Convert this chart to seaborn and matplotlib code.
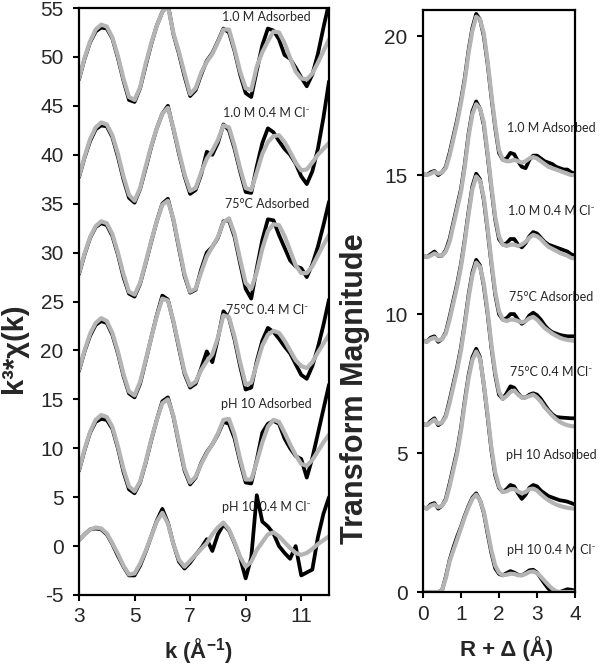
import matplotlib
matplotlib.use("Agg")
import matplotlib.pyplot as plt
import seaborn as sns

# ---------------- data ----------------
K = [3.0, 3.2, 3.4, 3.6, 3.8, 4.0, 4.2, 4.4, 4.6, 4.8, 5.0, 5.2, 5.4, 5.6, 5.8,
     6.0, 6.2, 6.4, 6.6, 6.8, 7.0, 7.2, 7.4, 7.6, 7.8, 8.0, 8.2, 8.4, 8.6, 8.8,
     9.0, 9.2, 9.4, 9.6, 9.8, 10.0, 10.2, 10.4, 10.6, 10.8, 11.0, 11.2, 11.4,
     11.6, 11.8, 12.0]

# k^3 chi(k): black = data, grey = fit (already offset as plotted)
chi_data_1 = [47.7, 49.8, 51.5, 52.6, 53.0, 52.9, 51.9, 49.9, 47.6, 45.6, 45.4, 46.8, 49.1, 51.3, 53.2,
              54.6, 55.4, 52.3, 50.3, 48.0, 46.0, 46.6, 48.2, 49.6, 50.4, 51.6, 52.9, 52.5, 50.6, 48.2,
              46.3, 45.9, 48.6, 51.2, 52.9, 52.7, 51.8, 50.2, 49.8, 48.9, 47.9, 47.0, 48.2, 50.3, 53.0, 55.5]
chi_fit_1 = [47.8, 49.9, 51.6, 52.8, 53.3, 53.1, 52.0, 50.1, 47.8, 45.9, 45.6, 46.9, 49.3, 51.4, 53.2,
             54.6, 55.2, 52.4, 50.5, 48.3, 46.2, 46.8, 48.4, 49.5, 50.3, 51.5, 52.8, 52.8, 50.8, 48.5,
             46.8, 46.6, 49.0, 50.5, 51.6, 52.6, 52.5, 51.4, 49.9, 48.5, 47.8, 47.7, 48.3, 49.4, 50.6, 51.8]
chi_data_2 = [37.7, 39.7, 41.4, 42.6, 43.0, 42.9, 41.8, 39.8, 37.5, 35.6, 35.1, 36.5, 38.6, 40.8, 42.7,
              44.2, 45.0, 42.6, 40.1, 37.8, 36.0, 36.4, 38.0, 40.3, 40.0, 41.2, 43.1, 42.5, 40.6, 38.3,
              36.2, 36.1, 38.8, 41.2, 42.7, 42.3, 41.4, 40.6, 40.0, 39.1, 37.8, 37.0, 38.3, 40.6, 43.8, 47.5]
chi_fit_2 = [37.8, 39.8, 41.6, 42.8, 43.3, 43.1, 42.0, 40.1, 37.8, 35.9, 35.3, 36.6, 38.8, 40.9, 42.7,
             44.2, 44.8, 42.7, 40.3, 38.0, 36.3, 36.6, 38.2, 39.6, 40.4, 41.5, 43.0, 42.8, 40.9, 38.6,
             36.6, 36.4, 38.2, 40.1, 41.3, 41.9, 42.0, 41.3, 40.3, 39.2, 38.4, 38.5, 39.2, 40.0, 40.6, 41.2]
chi_data_3 = [27.8, 29.8, 31.5, 32.6, 33.0, 32.8, 31.7, 29.8, 27.5, 25.8, 25.5, 26.8, 28.9, 31.1, 33.2,
              35.0, 35.5, 33.3, 30.4, 27.6, 25.9, 26.2, 28.3, 30.0, 30.6, 31.5, 33.2, 33.3, 31.6, 28.9,
              26.3, 25.3, 28.4, 31.3, 33.4, 33.3, 31.8, 30.5, 29.2, 28.6, 28.4, 27.5, 28.8, 30.6, 32.8, 35.2]
chi_fit_3 = [27.9, 29.9, 31.6, 32.7, 33.2, 33.0, 31.9, 30.0, 27.8, 26.0, 25.7, 26.9, 29.0, 31.2, 33.2,
             34.9, 35.3, 33.4, 30.6, 27.8, 26.0, 26.3, 28.0, 29.6, 30.6, 31.6, 33.1, 33.5, 31.9, 29.3,
             26.9, 26.3, 28.0, 30.4, 32.2, 32.9, 32.8, 31.7, 30.2, 28.7, 27.9, 27.9, 28.6, 29.7, 30.8, 31.8]
chi_data_4 = [17.9, 19.9, 21.5, 22.6, 23.0, 22.8, 21.6, 19.7, 17.4, 15.6, 15.2, 16.6, 18.9, 21.3, 23.6,
              25.6, 25.2, 22.9, 20.2, 17.6, 16.2, 16.6, 18.2, 19.9, 18.8, 21.2, 24.0, 23.3, 21.1, 18.4,
              16.0, 16.2, 18.9, 21.0, 22.3, 21.9, 21.2, 20.4, 19.7, 18.6, 17.5, 17.1, 18.4, 20.3, 22.6, 25.2]
chi_fit_4 = [18.0, 20.0, 21.7, 22.8, 23.3, 23.0, 21.8, 19.9, 17.6, 15.8, 15.4, 16.8, 19.0, 21.3, 23.5,
             25.3, 25.1, 23.0, 20.4, 17.8, 16.4, 16.8, 18.0, 18.9, 19.6, 21.3, 23.6, 23.4, 21.4, 18.8,
             16.5, 16.7, 18.6, 20.5, 21.6, 22.0, 21.8, 21.0, 20.0, 19.0, 18.4, 18.2, 18.8, 19.8, 20.7, 21.6]
chi_data_5 = [7.7, 9.8, 11.6, 12.7, 13.0, 12.9, 12.0, 10.0, 7.6, 5.8, 5.4, 6.5, 8.5, 10.8, 12.9,
              14.8, 15.2, 13.2, 10.4, 7.7, 6.3, 7.0, 8.5, 9.6, 10.4, 11.4, 12.7, 12.5, 11.0, 8.6,
              6.5, 6.4, 8.8, 11.6, 12.5, 12.8, 12.5, 11.0, 10.0, 9.2, 8.9, 7.0, 9.0, 11.5, 14.0, 16.5]
chi_fit_5 = [7.8, 9.9, 11.7, 12.9, 13.4, 13.2, 12.2, 10.2, 7.9, 6.1, 5.6, 6.6, 8.6, 10.9, 12.9,
             14.6, 15.0, 13.3, 10.6, 7.9, 6.5, 7.1, 8.4, 9.5, 10.4, 11.5, 12.9, 13.0, 11.4, 8.9,
             6.8, 6.8, 8.6, 10.6, 12.2, 12.9, 12.7, 11.6, 10.4, 9.3, 8.4, 8.2, 8.8, 9.7, 10.6, 11.4]
chi_data_6 = [0.6, 1.2, 1.7, 1.8, 1.7, 1.2, 0.2, -1.0, -2.1, -3.0, -3.0, -2.0, -0.6, 1.0, 2.6,
              3.8, 2.4, 0.2, -1.6, -2.3, -1.7, -0.9, -0.2, 0.7, -0.5, 1.2, 2.2, 1.6, 0.3, -1.2,
              -3.3, -1.2, 5.2, 2.5, 2.0, 1.3, 0.0, -0.7, -1.3, 0.0, -3.0, -2.7, -2.4, 0.9, 3.3, 5.0]
chi_fit_6 = [0.6, 1.2, 1.7, 1.9, 1.8, 1.3, 0.3, -0.8, -2.0, -2.9, -2.8, -1.8, -0.5, 1.0, 2.5,
             3.4, 2.3, 0.2, -1.4, -2.1, -1.5, -0.9, -0.3, 0.3, 1.2, 1.9, 2.4, 1.7, 0.4, -1.1,
             -2.1, -1.6, -0.4, 0.4, 1.2, 1.4, 1.0, 0.4, -0.2, -0.7, -0.9, -0.7, -0.3, 0.2, 0.6, 1.0]

R = [0.0, 0.1, 0.2, 0.3, 0.4, 0.5, 0.6, 0.7, 0.8, 0.9, 1.0, 1.1, 1.2, 1.3, 1.4, 1.5, 1.6, 1.7, 1.8,
     1.9, 2.0, 2.1, 2.2, 2.3, 2.4, 2.5, 2.6, 2.7, 2.8, 2.9, 3.0, 3.1, 3.2, 3.3, 3.4, 3.5, 3.6, 3.7,
     3.8, 3.9, 4.0]

ft_data_1 = [15.05, 15.0, 15.1, 15.15, 15.0, 15.1, 15.3, 15.8, 16.4, 17.0,
             17.7, 18.5, 19.5, 20.3, 20.8, 20.6, 20.0, 19.0, 17.8, 16.7,
             15.8, 15.55, 15.6, 15.8, 15.75, 15.5, 15.3, 15.25, 15.55, 15.7,
             15.7, 15.6, 15.5, 15.45, 15.4, 15.3, 15.25, 15.2, 15.2, 15.1, 15.05]
ft_fit_1 = [15.05, 15.0, 15.05, 15.12, 15.05, 15.1, 15.25, 15.7, 16.3, 16.9,
            17.6, 18.4, 19.4, 20.2, 20.7, 20.6, 20.1, 19.1, 17.9, 16.8,
            15.9, 15.55, 15.5, 15.5, 15.55, 15.5, 15.45, 15.5, 15.6, 15.65,
            15.6, 15.5, 15.4, 15.3, 15.25, 15.2, 15.15, 15.1, 15.05, 15.0, 15.0]
ft_data_2 = [12.1, 12.05, 12.15, 12.25, 12.1, 12.1, 12.3, 12.7, 13.3, 13.9,
             14.5, 15.4, 16.5, 17.3, 17.65, 17.4, 16.8, 15.7, 14.5, 13.4,
             12.7, 12.5, 12.55, 12.7, 12.7, 12.5, 12.4, 12.55, 12.8, 12.95,
             12.9, 12.75, 12.6, 12.5, 12.45, 12.4, 12.35, 12.3, 12.25, 12.15, 12.1]
ft_fit_2 = [12.1, 12.05, 12.1, 12.18, 12.12, 12.1, 12.25, 12.6, 13.2, 13.8,
            14.4, 15.3, 16.4, 17.2, 17.55, 17.4, 16.9, 15.8, 14.6, 13.5,
            12.8, 12.5, 12.45, 12.5, 12.5, 12.45, 12.5, 12.6, 12.75, 12.85,
            12.8, 12.7, 12.55, 12.42, 12.35, 12.28, 12.2, 12.15, 12.1, 12.02, 12.0]
ft_data_3 = [9.05, 9.0, 9.15, 9.2, 9.0, 9.1, 9.35, 9.9, 10.5, 11.1,
             11.8, 12.7, 13.7, 14.6, 15.05, 14.85, 14.1, 13.0, 11.8, 10.7,
             10.0, 9.8, 9.85, 10.0, 10.0, 9.8, 9.65, 9.75, 9.95, 10.05,
             9.95, 9.8, 9.6, 9.45, 9.35, 9.3, 9.25, 9.22, 9.2, 9.2, 9.2]
ft_fit_3 = [9.05, 9.0, 9.1, 9.15, 9.05, 9.1, 9.3, 9.8, 10.4, 11.0,
            11.7, 12.6, 13.6, 14.5, 14.95, 14.8, 14.2, 13.1, 11.9, 10.8,
            10.1, 9.8, 9.75, 9.8, 9.8, 9.75, 9.7, 9.75, 9.85, 9.9,
            9.8, 9.65, 9.5, 9.4, 9.3, 9.22, 9.15, 9.1, 9.07, 9.05, 9.03]
ft_data_4 = [6.05, 6.0, 6.15, 6.25, 6.0, 6.1, 6.35, 6.9, 7.5, 8.1,
             8.8, 9.7, 10.7, 11.5, 11.95, 11.75, 11.0, 10.0, 8.8, 7.8,
             7.1, 6.95, 7.15, 7.4, 7.35, 7.15, 7.0, 7.0, 7.1, 7.15,
             7.1, 6.95, 6.75, 6.55, 6.4, 6.3, 6.28, 6.27, 6.26, 6.25, 6.25]
ft_fit_4 = [6.05, 6.0, 6.1, 6.2, 6.05, 6.1, 6.3, 6.8, 7.4, 8.0,
            8.7, 9.6, 10.6, 11.4, 11.85, 11.7, 11.1, 10.1, 8.9, 7.9,
            7.2, 6.95, 7.05, 7.2, 7.25, 7.1, 7.0, 7.0, 7.05, 7.1,
            7.0, 6.85, 6.65, 6.5, 6.35, 6.22, 6.12, 6.05, 6.0, 5.97, 5.95]
ft_data_5 = [3.05, 3.0, 3.15, 3.2, 3.0, 3.1, 3.35, 3.9, 4.5, 5.1,
             5.9, 6.9, 7.8, 8.45, 8.75, 8.45, 7.45, 6.3, 5.1, 4.2,
             3.75, 3.6, 3.7, 3.85, 3.8, 3.55, 3.35, 3.5, 3.75, 3.85,
             3.8, 3.65, 3.55, 3.45, 3.4, 3.35, 3.3, 3.28, 3.25, 3.2, 3.15]
ft_fit_5 = [3.05, 3.0, 3.1, 3.15, 3.05, 3.1, 3.3, 3.8, 4.4, 5.0,
            5.8, 6.8, 7.7, 8.35, 8.65, 8.4, 7.5, 6.4, 5.2, 4.3,
            3.8, 3.6, 3.62, 3.7, 3.7, 3.62, 3.55, 3.6, 3.7, 3.72,
            3.65, 3.52, 3.4, 3.3, 3.22, 3.15, 3.1, 3.06, 3.03, 3.01, 3.0]
ft_data_6 = [0.0, 0.0, 0.0, 0.0, 0.0, 0.05, 0.55, 1.15, 1.6, 2.0,
             2.35, 2.75, 3.1, 3.4, 3.55, 3.3, 2.85, 2.1, 1.4, 0.85,
             0.65, 0.6, 0.68, 0.75, 0.7, 0.62, 0.6, 0.68, 0.78, 0.8,
             0.7, 0.5, 0.3, 0.12, 0.0, -0.05, 0.0, 0.05, 0.1, 0.08, 0.05]
ft_fit_6 = [0.0, 0.0, 0.0, 0.0, 0.0, 0.05, 0.5, 1.1, 1.5, 1.9,
            2.3, 2.7, 3.05, 3.35, 3.5, 3.3, 2.9, 2.2, 1.5, 0.95,
            0.7, 0.6, 0.62, 0.66, 0.65, 0.6, 0.6, 0.65, 0.72, 0.74,
            0.68, 0.55, 0.4, 0.25, 0.12, 0.03, 0.0, 0.0, 0.0, 0.0, 0.0]

labels = ["1.0 M Adsorbed", "1.0 M 0.4 M Cl⁻", "75°C Adsorbed",
          "75°C 0.4 M Cl⁻", "pH 10 Adsorbed", "pH 10 0.4 M Cl⁻"]
label_y_left = [54.1, 44.3, 35.0, 24.1, 14.5, 4.0]
label_y_right = [16.7, 13.7, 10.6, 7.9, 4.93, 1.5]

chi_data = [chi_data_1, chi_data_2, chi_data_3, chi_data_4, chi_data_5, chi_data_6]
chi_fit = [chi_fit_1, chi_fit_2, chi_fit_3, chi_fit_4, chi_fit_5, chi_fit_6]
ft_data = [ft_data_1, ft_data_2, ft_data_3, ft_data_4, ft_data_5, ft_data_6]
ft_fit = [ft_fit_1, ft_fit_2, ft_fit_3, ft_fit_4, ft_fit_5, ft_fit_6]

left_xticks = [3, 5, 7, 9, 11]
left_yticks = [-5, 0, 5, 10, 15, 20, 25, 30, 35, 40, 45, 50, 55]
right_xticks = [0, 1, 2, 3, 4]
right_yticks = [0, 5, 10, 15, 20]

# ---------------- style ----------------
sns.set_style("ticks")
plt.rcParams["font.family"] = ["Liberation Sans", "DejaVu Sans"]
plt.rcParams["axes.unicode_minus"] = False
plt.rcParams["mathtext.fontset"] = "custom"
plt.rcParams["mathtext.rm"] = "Liberation Sans"
plt.rcParams["mathtext.bf"] = "Liberation Sans:bold"

GREY = "#B4B4B4"
BLACK = "#000000"
LBL_FONT = ["Lato", "DejaVu Sans"]

fig = plt.figure(figsize=(6.0, 6.66), dpi=100)
axL = fig.add_axes([79 / 600, 1 - 595 / 666, 250 / 600, 587 / 666])
axR = fig.add_axes([423 / 600, 1 - 592 / 666, 152 / 600, 582 / 666])

for d, f in zip(chi_data, chi_fit):
    sns.lineplot(x=K, y=d, ax=axL, color=BLACK, linewidth=2.7,
                 estimator=None, sort=False, legend=False)
    sns.lineplot(x=K, y=f, ax=axL, color=GREY, linewidth=3.0,
                 estimator=None, sort=False, legend=False)

for d, f in zip(ft_data, ft_fit):
    sns.lineplot(x=R, y=d, ax=axR, color=BLACK, linewidth=2.7,
                 estimator=None, sort=False, legend=False)
    sns.lineplot(x=R, y=f, ax=axR, color=GREY, linewidth=3.0,
                 estimator=None, sort=False, legend=False)

for lab, y in zip(labels, label_y_left):
    axL.text(9.76, y, lab, ha="center", va="center", fontsize=9,
             family=LBL_FONT, zorder=1)
for lab, y in zip(labels, label_y_right):
    axR.text(3.37, y, lab, ha="center", va="center", fontsize=9,
             family=LBL_FONT, zorder=1, clip_on=False)

axL.set_xlim(3, 12)
axL.set_ylim(-5, 55)
axL.set_xticks(left_xticks)
axL.set_yticks(left_yticks)
axR.set_xlim(0, 4)
axR.set_ylim(0, 20.94)
axR.set_xticks(right_xticks)
axR.set_yticks(right_yticks)

for ax in (axL, axR):
    for s in ax.spines.values():
        s.set_visible(True)
        s.set_linewidth(1.6)
        s.set_color("black")
    ax.tick_params(axis="both", direction="out", length=4, width=1.5,
                   labelsize=15, color="black")
    ax.tick_params(axis="y", pad=7)
    ax.tick_params(axis="x", pad=5)
    ax.grid(False)

axL.set_ylabel("k³*χ(k)", fontsize=21, fontweight="bold")
axL.yaxis.set_label_coords(-0.205, 0.42)
axL.set_xlabel(r"k (Å$^{\mathbf{-1}}$)", fontsize=16, fontweight="bold")
axL.xaxis.set_label_coords(0.476, -0.07)

axR.set_ylabel("Transform Magnitude", fontsize=22, fontweight="bold")
axR.yaxis.set_label_coords(-0.35, 0.35)
axR.set_xlabel("R + Δ (Å)", fontsize=16, fontweight="bold")
axR.xaxis.set_label_coords(0.55, -0.075)

fig.savefig("out.png", dpi=100)
